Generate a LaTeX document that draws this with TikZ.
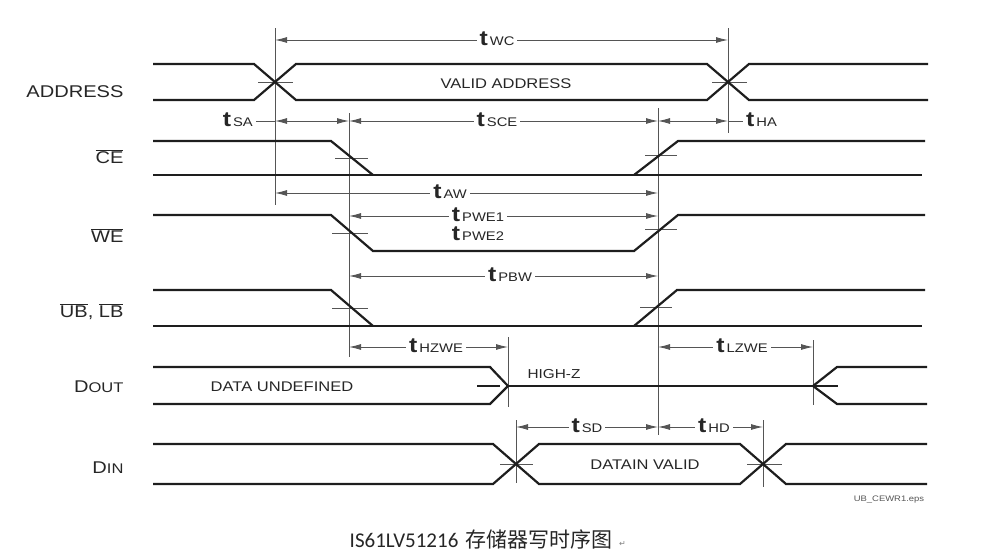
\documentclass[tikz,border=0pt]{standalone}
\usepackage{fontspec}
\setmainfont{Liberation Sans}[FakeStretch=1.18]
\newfontfamily\capfont{Carlito}
\newfontfamily\cjk{Noto Sans CJK SC}
\newfontfamily\symfont{DejaVu Sans}
\usetikzlibrary{arrows.meta}
\definecolor{sigc}{HTML}{1E1E1E}
\definecolor{thinc}{HTML}{555555}
\definecolor{txtc}{HTML}{262626}
\newcommand\tlab[1]{{\fontsize{21}{21}\selectfont\bfseries t}\kern2pt{\fontsize{12.5}{13}\selectfont #1}}
\newcommand\ovl[1]{$\overline{\mbox{#1}}$}

\begin{document}
\begin{tikzpicture}
[x=1pt,y=-1pt,
 sig/.style={line width=2.2pt,draw=sigc},
 thin/.style={line width=0.85pt,draw=thinc},
 dim/.style={thin,{Latex[length=12pt,width=6pt]}-{Latex[length=12pt,width=6pt]}},
 tl/.style={fill=white,inner xsep=3pt,inner ysep=1pt,anchor=base,text=txtc},
 sname/.style={anchor=base east,text=txtc,font=\fontsize{17}{20}\selectfont},
 intext/.style={anchor=base,text=txtc,font=\fontsize{14}{16}\selectfont}]
\useasboundingbox (0,0) rectangle (984,557);

% signal names
\node[sname] (addr) at (127,97) {ADDRESS};
\node[sname] (ce) at (127,163) {\ovl{CE}};
\node[sname] (we) at (127,242) {\ovl{WE}};
\node[sname] (ublb) at (127,317) {\ovl{UB}, \ovl{LB}};
\node[sname] (dout) at (127,392) {D{\fontsize{14}{16}\selectfont OUT}};
\node[sname] (din) at (127,473) {D{\fontsize{14}{16}\selectfont IN}};

% timing reference lines
\foreach \x/\ya/\yb in {275/28/205, 728/28/133, 349/113/357, 658/108/435, 508/337/407, 813/340/405, 516/420/483, 763/420/487}
\draw[thin] (\x,\ya) -- (\x,\yb);

% edge ticks
\foreach \xa/\y/\xb in {258/82/293, 712/82/747, 335/158/368, 645/155/677, 332/233/368, 645/229/677, 332/308/368, 640/307/672, 500/464/533, 747/464/782}
\draw[thin] (\xa,\y) -- (\xb,\y);

% waveforms
\draw[sig] (153,64) -- (254,64) -- (296,100) -- (707,100) -- (749,64) -- (928,64);
\draw[sig] (153,100) -- (254,100) -- (296,64) -- (707,64) -- (749,100) -- (928,100);
\draw[sig] (153,141) -- (331,141) -- (373,175);
\draw[sig] (153,175) -- (922,175);
\draw[sig] (634,175) -- (678,141) -- (925,141);
\draw[sig] (153,215) -- (331,215) -- (373,251) -- (634,251) -- (678,215) -- (925,215);
\draw[sig] (153,290) -- (331,290) -- (373,326);
\draw[sig] (153,326) -- (922,326);
\draw[sig] (634,326) -- (677,290) -- (925,290);
\draw[sig] (153,367) -- (490,367) -- (508,386) -- (490,404) -- (153,404);
\draw[sig] (477,386) -- (500,386);
\draw[sig] (508,386) -- (838,386);
\draw[sig] (927,367) -- (837,367) -- (813,386) -- (837,404) -- (927,404);
\draw[sig] (153,444) -- (493,444) -- (539,484) -- (740,484) -- (786,444) -- (927,444);
\draw[sig] (153,484) -- (493,484) -- (539,444) -- (740,444) -- (786,484) -- (927,484);

% texts in the waveforms
\node[intext] (valid) at (506,88) {VALID ADDRESS};
\node[intext] (undef) at (282,391) {DATA UNDEFINED};
\node[intext,font=\fontsize{13}{15}\selectfont] (hiz) at (554,378) {HIGH-Z};
\node[intext] (dvalid) at (645,469) {DATAIN VALID};
\node[anchor=base,text=thinc,font=\fontsize{8}{9}\selectfont] (eps) at (889,501) {UB\_CEWR1.eps};

% timing parameters
\foreach \nm/\y/\xa/\xb/\lx/\sub in {wc/40/275/728/497/WC, sce/121/349/658/497/SCE, aw/193/275/658/450/AW, pwe/216/349/658/478/PWE1, pbw/276/349/658/510/PBW, hzwe/347/349/508/436/HZWE, lzwe/347/658/813/742/LZWE, sd/427/516/658/587/SD, hd/427/658/763/714/HD}
{
\coordinate (\nm-a) at (\xa,\y);
\coordinate (\nm-b) at (\xb,\y);
\draw[dim] (\nm-a) -- (\nm-b);
\node[tl] (t\nm) at (\lx,\y+5) {\tlab{\sub}};
}
\node[tl] (tpwe2) at (478,240) {\tlab{PWE2}};

\coordinate (sa-a) at (275,121);
\coordinate (sa-b) at (349,121);
\draw[dim] (sa-a) -- (sa-b);
\node[tl,anchor=base east] (tsa) at (256,126) {\tlab{SA}};
\draw[thin] (tsa.east |- sa-a) -- (sa-a);

\coordinate (ha-a) at (658,121);
\coordinate (ha-b) at (728,121);
\draw[dim] (ha-a) -- (ha-b);
\node[tl,anchor=base west] (tha) at (743,126) {\tlab{HA}};
\draw[thin] (ha-b) -- (tha.west |- ha-b);

% caption
\node[anchor=base,text=txtc,font=\fontsize{21}{24}\selectfont] (cap) at (481,547) {{\capfont IS61LV51216} {\cjk 存储器写时序图}};
\node[anchor=base west,inner sep=0pt,text=gray,font=\fontsize{8}{9}\selectfont] (ret) at (619,546) {\symfont ↵};
\end{tikzpicture}
\end{document}
